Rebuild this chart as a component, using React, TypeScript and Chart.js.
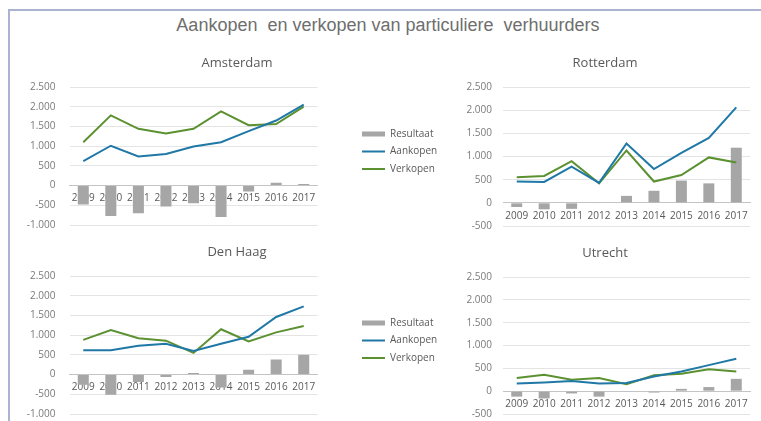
import React, { useEffect, useRef } from "react";
import { Chart, registerables } from "chart.js";

Chart.register(...registerables);

const years = ["2009", "2010", "2011", "2012", "2013", "2014", "2015", "2016", "2017"];
const yTicksValues = [-1000, -500, 0, 500, 1000, 1500, 2000, 2500];

const amsterdamAankopen = [620, 1010, 740, 800, 990, 1100, 1380, 1650, 2050];
const amsterdamVerkopen = [1100, 1780, 1440, 1320, 1440, 1880, 1530, 1560, 2000];
const amsterdamResultaat = [-480, -770, -700, -530, -450, -800, -150, 70, 40];

const rotterdamAankopen = [460, 450, 780, 430, 1280, 730, 1080, 1400, 2060];
const rotterdamVerkopen = [550, 580, 900, 420, 1130, 460, 600, 980, 870];
const rotterdamResultaat = [-90, -140, -130, -10, 150, 260, 480, 420, 1190];

const denHaagAankopen = [620, 620, 730, 780, 600, 780, 960, 1460, 1730];
const denHaagVerkopen = [880, 1130, 920, 860, 550, 1150, 840, 1070, 1230];
const denHaagResultaat = [-260, -510, -190, -60, 40, -330, 125, 380, 500];

const utrechtAankopen = [170, 190, 220, 170, 180, 320, 430, 570, 710];
const utrechtVerkopen = [290, 360, 250, 290, 150, 350, 380, 480, 430];
const utrechtResultaat = [-120, -160, -50, -120, -10, -30, 50, 90, 270];

const GRAY = "#a6a6a6";
const BLUE = "#1f78a6";
const GREEN = "#5b9130";
const FONT = "'Open Sans', 'DejaVu Sans', sans-serif";

const fmt = (v: number) => {
  const s = Math.abs(v).toString().replace(/\B(?=(\d{3})+(?!\d))/g, ".");
  return (v < 0 ? "-" : "") + s;
};

type PanelProps = {
  title: string;
  a: number[];
  v: number[];
  r: number[];
  min: number;
  left: number;
  top: number;
  width: number;
  height: number;
  padX: number;
  padB: number;
  yWidth: number;
  yPad: number;
  legend: boolean;
  spacer: number;
  outer: number;
};

function Panel(p: PanelProps) {
  const ref = useRef<HTMLCanvasElement | null>(null);
  useEffect(() => {
    if (!ref.current) return;
    const scales: any = {
      x: {
        position: { y: 0 },
        grid: { display: false, drawTicks: false },
        border: { display: true, color: "#c4c4c4", width: 1 },
        ticks: { color: "#595959", font: { family: FONT, size: 10 }, padding: 7, maxRotation: 0, autoSkip: false },
        afterFit: (s: any) => {
          s.height = 0;
        },
      },
      y: {
        min: p.min,
        max: 2500,
        afterBuildTicks: (s: any) => {
          s.ticks = yTicksValues.filter((t) => t >= p.min).map((t) => ({ value: t }));
        },
        ticks: { color: "#7a7a7a", font: { family: FONT, size: 10 }, padding: 0, callback: (val: any) => fmt(Number(val)) },
        grid: { color: "#e4e4e4", drawTicks: true, tickLength: p.yPad, tickColor: "rgba(0,0,0,0)", lineWidth: 1 },
        border: { display: false },
        afterFit: (s: any) => {
          s.width = p.yWidth;
        },
      },
    };
    if (p.legend) {
      const spacerScale = (w: number, weight: number) => ({
        type: "linear",
        position: "right",
        display: true,
        weight,
        grid: { display: false, drawTicks: false },
        border: { display: false },
        ticks: { display: false },
        afterFit: (s: any) => {
          s.width = w;
        },
      });
      scales.sp = spacerScale(p.spacer, 0);
      scales.sp2 = spacerScale(p.outer, 1500);
    }
    const chart = new Chart(ref.current, {
      type: "bar",
      data: {
        labels: years,
        datasets: [
          {
            type: "bar",
            label: "Resultaat",
            data: p.r,
            backgroundColor: GRAY,
            borderWidth: 0,
            order: 1,
            barPercentage: 0.5,
            categoryPercentage: 0.8,
            yAxisID: "y",
            xAxisID: "x",
          } as any,
          {
            type: "line",
            label: "Aankopen",
            data: p.a,
            borderColor: BLUE,
            backgroundColor: BLUE,
            borderWidth: 2,
            pointRadius: 0,
            tension: 0,
            order: 0,
            yAxisID: "y",
            xAxisID: "x",
          } as any,
          {
            type: "line",
            label: "Verkopen",
            data: p.v,
            borderColor: GREEN,
            backgroundColor: GREEN,
            borderWidth: 2,
            pointRadius: 0,
            tension: 0,
            order: 0,
            yAxisID: "y",
            xAxisID: "x",
          } as any,
        ],
      },
      options: {
        animation: false,
        responsive: false,
        maintainAspectRatio: false,
        layout: { padding: { left: p.padX, right: p.padX, top: 0, bottom: p.padB } },
        plugins: {
          tooltip: { enabled: false },
          title: {
            display: true,
            text: p.title,
            color: "#595959",
            font: { family: FONT, size: 13, weight: "normal" },
            padding: { top: 5, bottom: 16.4 },
          },
          legend: p.legend
            ? {
                display: true,
                position: "right",
                fullSize: true,
                maxWidth: 84,
                title: { display: true, text: " ", padding: { top: 16, bottom: 0 }, font: { size: 10 } },
                labels: {
                  usePointStyle: true,
                  pointStyleWidth: 23,
                  boxHeight: 5,
                  padding: 7.5,
                  color: "#595959",
                  font: { family: FONT, size: 10 },
                  sort: (x: any, y: any) => x.datasetIndex - y.datasetIndex,
                  generateLabels: (c: any) =>
                    (Chart.defaults.plugins.legend.labels.generateLabels as any)(c).map((it: any) => ({
                      ...it,
                      pointStyle: it.datasetIndex === 0 ? "rect" : "line",
                      lineWidth: it.datasetIndex === 0 ? 0 : 2,
                    })),
                },
              }
            : { display: false },
        },
        scales,
      } as any,
    });
    return () => chart.destroy();
  }, []);
  return (
    <canvas
      ref={ref}
      width={p.width}
      height={p.height}
      style={{ position: "absolute", left: p.left, top: p.top, width: p.width, height: p.height }}
    />
  );
}

export default function App() {
  return (
    <div style={{ position: "fixed", left: 0, top: 0, width: 761, height: 421, background: "#fff", overflow: "hidden" }}>
      <div
        style={{
          position: "absolute",
          left: 8,
          top: 9,
          width: 753,
          height: 412,
          borderTop: "2px solid #aab3cf",
          borderLeft: "2px solid #aab3cf",
          boxSizing: "border-box",
        }}
      />
      <div
        style={{
          position: "absolute",
          left: 0,
          width: 776,
          top: 14,
          textAlign: "center",
          whiteSpace: "pre",
          fontFamily: "'Liberation Sans', Arial, sans-serif",
          fontSize: 18,
          lineHeight: "22px",
          color: "#6e6e6e",
        }}
      >
        {"Aankopen  en verkopen van particuliere  verhuurders"}
      </div>
      <Panel title="Amsterdam" a={amsterdamAankopen} v={amsterdamVerkopen} r={amsterdamResultaat} min={-1000}
        left={8} top={50} width={458} height={182} padX={10} padB={7} yWidth={51.5} yPad={14} legend={true} spacer={37} outer={17.5} />
      <Panel title="Rotterdam" a={rotterdamAankopen} v={rotterdamVerkopen} r={rotterdamResultaat} min={-500}
        left={449} top={50} width={312} height={183} padX={11} padB={7} yWidth={43} yPad={11} legend={false} spacer={0} outer={0} />
      <Panel title="Den Haag" a={denHaagAankopen} v={denHaagVerkopen} r={denHaagResultaat} min={-1000}
        left={8} top={239} width={458} height={182} padX={10} padB={7} yWidth={51.5} yPad={14} legend={true} spacer={37} outer={17.5} />
      <Panel title="Utrecht" a={utrechtAankopen} v={utrechtVerkopen} r={utrechtResultaat} min={-500}
        left={449} top={240} width={312} height={181} padX={11} padB={7} yWidth={43} yPad={11} legend={false} spacer={0} outer={0} />
    </div>
  );
}
